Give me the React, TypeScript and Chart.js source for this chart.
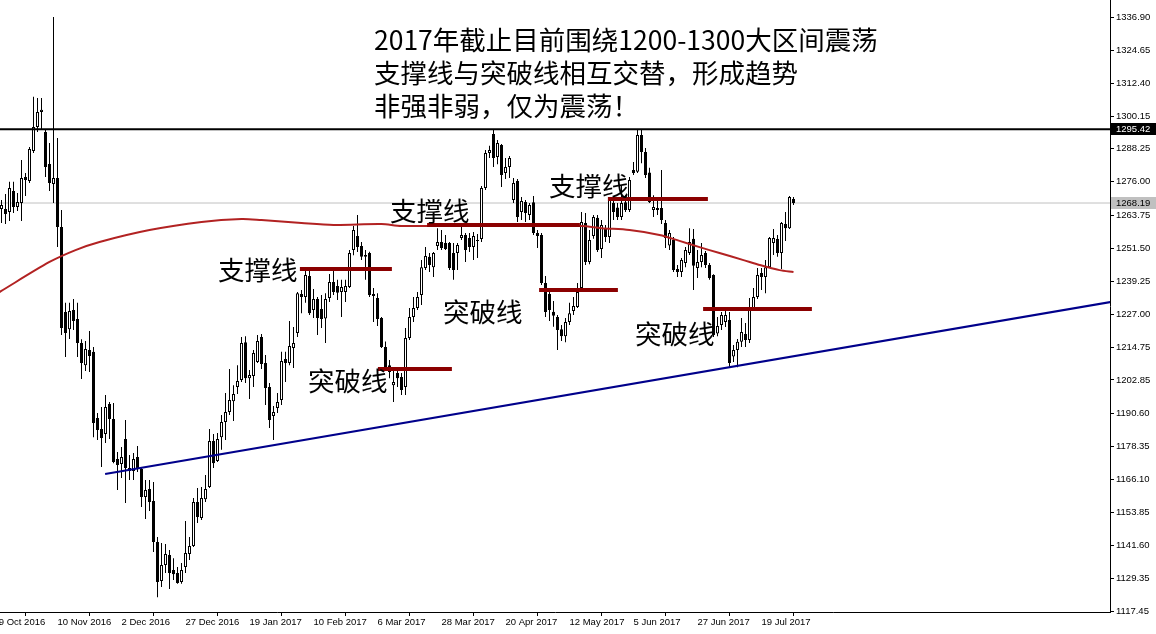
import React, { useEffect, useRef } from 'react';
import { Chart, registerables } from 'chart.js';

Chart.register(...registerables);

// Daily XAU/USD candles, 21 Oct 2016 .. 31 Jul 2017 (index 0 = 21 Oct 2016)
const opens = [
  1266.0, 1266.0, 1264.9, 1272.6, 1266.7, 1268.2, 1277.8, 1276.3, 1287.4, 1296.3,
  1301.8, 1294.4, 1282.6, 1275.2, 1277.4, 1259.3, 1227.9, 1221.6, 1228.7, 1225.3,
  1216.5, 1208.3, 1213.9, 1213.2, 1188.8, 1184.7, 1182.9, 1193.9, 1188.4, 1173.6,
  1171.8, 1181.0, 1169.2, 1169.2, 1174.4, 1169.9, 1159.6, 1162.5, 1158.1, 1143.0,
  1128.6, 1134.5, 1138.2, 1132.6, 1131.5, 1128.2, 1133.7, 1138.5, 1141.5, 1157.7,
  1151.8, 1158.8, 1163.3, 1180.3, 1172.9, 1181.7, 1187.3, 1191.0, 1195.0, 1200.2,
  1202.8, 1216.8, 1203.5, 1204.3, 1209.5, 1218.7, 1209.1, 1200.2, 1189.5, 1192.5,
  1195.4, 1210.6, 1209.1, 1214.6, 1220.2, 1234.6, 1233.5, 1241.2, 1228.7, 1232.7,
  1229.0, 1225.5, 1233.1, 1239.0, 1237.5, 1235.3, 1235.3, 1237.2, 1250.8, 1256.0,
  1252.3, 1248.3, 1249.7, 1234.6, 1233.1, 1225.7, 1215.0, 1208.3, 1200.9, 1205.4,
  1203.9, 1200.2, 1218.3, 1226.1, 1229.4, 1234.2, 1244.2, 1248.3, 1244.5, 1252.3,
  1253.8, 1253.4, 1253.4, 1249.7, 1249.7, 1255.3, 1256.4, 1255.3, 1251.9, 1254.5,
  1254.9, 1273.7, 1286.7, 1293.7, 1285.2, 1289.6, 1279.3, 1281.5, 1269.3, 1276.3,
  1264.9, 1268.6, 1263.8, 1268.5, 1257.1, 1256.4, 1238.6, 1234.6, 1228.0, 1226.1,
  1221.6, 1219.0, 1224.2, 1228.3, 1229.8, 1236.8, 1260.8, 1246.4, 1256.0, 1262.7,
  1251.2, 1258.9, 1255.6, 1268.2, 1266.5, 1263.0, 1268.5, 1265.6, 1280.4, 1279.7,
  1293.3, 1287.0, 1279.5, 1265.6, 1265.6, 1266.3, 1260.8, 1252.5, 1254.5, 1243.8,
  1242.7, 1246.0, 1249.7, 1255.0, 1244.2, 1246.4, 1249.7, 1245.3, 1241.6, 1220.0,
  1223.1, 1224.2, 1225.0, 1211.5, 1213.9, 1216.9, 1219.8, 1217.6, 1229.4, 1233.5,
  1242.3, 1240.9, 1244.5, 1253.4, 1254.9, 1249.7, 1260.4, 1258.9, 1269.7,
];
const highs = [
  1269.3, 1271.5, 1276.0, 1276.0, 1271.9, 1284.1, 1279.3, 1288.9, 1307.4, 1307.0,
  1307.0, 1295.2, 1290.4, 1336.9, 1292.2, 1265.6, 1231.3, 1231.3, 1232.7, 1231.3,
  1217.9, 1217.2, 1220.9, 1215.0, 1190.6, 1192.8, 1197.3, 1194.7, 1194.3, 1176.2,
  1178.1, 1188.0, 1175.1, 1175.8, 1178.4, 1170.7, 1165.9, 1165.9, 1165.1, 1144.8,
  1142.6, 1142.2, 1140.0, 1137.0, 1133.7, 1135.2, 1150.7, 1144.8, 1159.2, 1162.9,
  1163.3, 1167.7, 1184.7, 1182.9, 1183.2, 1189.9, 1198.0, 1206.9, 1200.9, 1208.3,
  1218.7, 1219.0, 1206.5, 1213.9, 1219.4, 1219.8, 1212.0, 1201.7, 1193.2, 1198.0,
  1213.2, 1213.2, 1224.6, 1222.4, 1235.3, 1236.1, 1244.2, 1244.2, 1236.4, 1233.5,
  1234.2, 1234.9, 1242.0, 1243.4, 1239.8, 1239.8, 1239.8, 1250.8, 1259.7, 1263.8,
  1253.8, 1250.8, 1250.2, 1236.8, 1234.9, 1226.1, 1217.0, 1210.2, 1207.6, 1207.2,
  1205.4, 1222.0, 1229.4, 1233.5, 1235.3, 1247.1, 1251.9, 1249.7, 1250.1, 1258.9,
  1258.2, 1256.4, 1253.8, 1253.4, 1253.4, 1259.3, 1257.1, 1257.1, 1257.5, 1256.7,
  1274.5, 1287.8, 1289.3, 1295.4, 1291.5, 1290.0, 1284.8, 1285.6, 1277.4, 1277.1,
  1270.4, 1269.3, 1268.2, 1270.8, 1258.2, 1257.1, 1241.2, 1235.3, 1232.0, 1226.8,
  1223.1, 1225.7, 1231.3, 1233.5, 1238.6, 1264.9, 1264.5, 1258.2, 1263.8, 1263.8,
  1261.9, 1260.1, 1270.4, 1269.3, 1268.2, 1274.8, 1271.2, 1277.8, 1283.3, 1295.5,
  1295.2, 1288.5, 1281.2, 1271.1, 1269.3, 1280.4, 1261.9, 1258.2, 1255.6, 1245.3,
  1247.9, 1251.9, 1258.9, 1258.6, 1250.8, 1253.4, 1250.5, 1246.0, 1241.9, 1226.1,
  1227.9, 1228.7, 1227.9, 1215.7, 1218.0, 1225.7, 1223.9, 1233.1, 1236.8, 1244.2,
  1244.2, 1247.1, 1255.6, 1258.6, 1256.4, 1261.2, 1264.9, 1270.8, 1270.4,
];
const lows = [
  1260.8, 1260.4, 1261.5, 1264.5, 1265.2, 1261.5, 1270.8, 1275.6, 1286.7, 1294.4,
  1295.2, 1277.8, 1272.6, 1268.2, 1251.9, 1219.4, 1211.3, 1218.0, 1221.3, 1211.3,
  1203.2, 1206.1, 1205.8, 1181.7, 1180.6, 1170.7, 1179.5, 1181.0, 1172.1, 1162.2,
  1166.6, 1157.4, 1165.9, 1165.9, 1168.8, 1155.9, 1151.5, 1154.4, 1139.3, 1122.6,
  1126.3, 1131.5, 1125.6, 1128.9, 1127.5, 1127.5, 1131.5, 1136.3, 1141.1, 1150.0,
  1151.1, 1157.7, 1162.9, 1170.3, 1172.5, 1177.0, 1180.6, 1189.9, 1187.7, 1197.6,
  1202.1, 1201.7, 1195.8, 1200.2, 1209.1, 1206.9, 1193.6, 1185.1, 1180.6, 1190.6,
  1193.6, 1202.1, 1208.3, 1207.2, 1218.7, 1227.5, 1231.3, 1226.8, 1225.7, 1219.4,
  1222.0, 1216.5, 1231.6, 1234.2, 1232.4, 1226.1, 1231.6, 1236.8, 1248.9, 1250.1,
  1247.1, 1239.8, 1233.5, 1224.2, 1222.8, 1214.6, 1206.5, 1203.5, 1194.7, 1200.2,
  1197.3, 1197.3, 1217.6, 1224.2, 1228.7, 1230.5, 1243.4, 1242.7, 1240.9, 1250.8,
  1250.8, 1250.8, 1243.4, 1239.8, 1243.4, 1254.5, 1246.4, 1250.1, 1247.1, 1247.9,
  1253.8, 1273.0, 1284.8, 1281.5, 1282.5, 1274.1, 1277.1, 1277.4, 1268.2, 1261.2,
  1261.9, 1261.2, 1261.9, 1256.4, 1251.6, 1237.9, 1226.1, 1224.6, 1222.5, 1213.9,
  1217.2, 1216.8, 1223.1, 1226.8, 1229.4, 1236.4, 1245.3, 1245.6, 1255.0, 1250.1,
  1247.9, 1253.8, 1253.4, 1261.9, 1261.9, 1261.9, 1264.9, 1264.9, 1278.5, 1279.3,
  1282.9, 1277.4, 1268.2, 1263.0, 1263.8, 1260.4, 1251.6, 1250.8, 1242.7, 1240.9,
  1240.9, 1244.5, 1249.0, 1236.1, 1240.5, 1244.5, 1244.2, 1239.8, 1218.7, 1219.0,
  1221.3, 1222.4, 1207.6, 1209.5, 1207.5, 1215.0, 1215.0, 1216.5, 1228.7, 1232.7,
  1236.1, 1234.9, 1244.2, 1249.0, 1248.3, 1243.8, 1254.2, 1258.6, 1267.5,
];
const closes = [
  1267.5, 1264.1, 1273.7, 1266.7, 1268.6, 1277.4, 1276.7, 1288.1, 1296.3, 1301.8,
  1302.6, 1281.5, 1275.6, 1277.4, 1259.3, 1222.0, 1220.2, 1228.3, 1224.6, 1216.5,
  1209.1, 1214.3, 1211.7, 1186.9, 1184.3, 1181.4, 1192.8, 1188.4, 1172.5, 1171.4,
  1174.4, 1170.3, 1170.3, 1173.6, 1170.3, 1159.6, 1162.2, 1157.7, 1143.0, 1128.2,
  1134.5, 1138.5, 1131.5, 1131.1, 1127.8, 1132.6, 1138.9, 1141.5, 1157.7, 1152.2,
  1159.2, 1162.5, 1180.3, 1172.1, 1181.0, 1187.3, 1191.0, 1195.4, 1197.6, 1202.4,
  1216.5, 1203.5, 1204.7, 1212.8, 1217.2, 1208.7, 1199.9, 1188.0, 1191.0, 1194.7,
  1209.8, 1209.1, 1215.4, 1216.5, 1234.9, 1233.5, 1241.6, 1227.5, 1232.7, 1225.7,
  1225.3, 1232.7, 1239.0, 1235.3, 1235.0, 1237.2, 1237.5, 1249.7, 1258.2, 1251.9,
  1248.3, 1249.0, 1234.2, 1233.8, 1225.3, 1215.0, 1207.6, 1205.8, 1202.1, 1203.5,
  1199.1, 1218.3, 1226.1, 1229.4, 1233.5, 1244.5, 1248.6, 1245.3, 1249.7, 1253.8,
  1251.6, 1251.2, 1244.2, 1243.4, 1252.7, 1256.4, 1250.8, 1251.9, 1256.0, 1254.2,
  1273.7, 1286.7, 1287.8, 1284.8, 1290.4, 1278.5, 1281.5, 1284.8, 1275.6, 1263.0,
  1268.9, 1264.5, 1267.5, 1257.1, 1256.0, 1238.6, 1227.9, 1228.7, 1226.5, 1221.3,
  1219.0, 1224.2, 1227.5, 1230.1, 1235.3, 1261.2, 1246.4, 1254.5, 1263.0, 1250.8,
  1260.1, 1255.6, 1269.3, 1264.9, 1263.0, 1268.2, 1265.6, 1276.7, 1279.3, 1293.3,
  1287.0, 1278.5, 1268.5, 1266.7, 1266.3, 1261.9, 1255.3, 1257.1, 1243.4, 1242.7,
  1247.1, 1250.8, 1253.8, 1245.0, 1246.4, 1249.0, 1245.3, 1240.5, 1219.4, 1222.8,
  1226.8, 1226.8, 1209.1, 1213.9, 1216.9, 1220.5, 1217.6, 1229.4, 1233.5, 1241.6,
  1240.9, 1244.5, 1255.3, 1255.3, 1249.7, 1260.8, 1258.9, 1270.4, 1268.19,
];

// x-axis tick labels (bar index of each label)
const tickIdx = [-2, 14, 30, 46, 62, 78, 94, 110, 126, 142, 158, 174, 190];
const tickLabels = [
  '19 Oct 2016', '10 Nov 2016', '2 Dec 2016', '27 Dec 2016', '19 Jan 2017', '10 Feb 2017',
  '6 Mar 2017', '28 Mar 2017', '20 Apr 2017', '12 May 2017', '5 Jun 2017', '27 Jun 2017', '19 Jul 2017',
];
// y-axis tick values
const yTicks = [
  1336.9, 1324.65, 1312.4, 1300.15, 1288.25, 1276.0, 1263.75, 1251.5, 1239.25, 1227.0,
  1214.75, 1202.85, 1190.6, 1178.35, 1166.1, 1153.85, 1141.6, 1129.35, 1117.45,
];
const yMin = 1117.11;
const yMax = 1343.18;

// moving average
const maIdx = [-0.5, 12, 18.5, 24.5, 37, 50, 60, 65, 75, 83, 95, 100, 145, 150, 157, 164.5, 169.5, 174.5, 179.5, 185.5, 189.5, 194.5, 198];
const maVal = [1235.3, 1246.4, 1250.8, 1253.8, 1258.2, 1261.2, 1262.3, 1261.9, 1260.8, 1260.1, 1260.4, 1259.7, 1259.7, 1258.9, 1258.2, 1256.4, 1254.2, 1251.9, 1249.7, 1247.1, 1245.3, 1243.4, 1242.7];

// support / breakout levels
const levelFrom = [74.6, 94.1, 106.4, 134.4, 151.6, 175.4];
const levelTo = [97.6, 112.6, 144.6, 154.1, 176.6, 202.6];
const levelPrice = [1243.8, 1206.9, 1260.1, 1236.1, 1269.7, 1229.0];

// rising trend line
const trendIdx = [25.9, 277.2];
const trendVal = [1168.1, 1231.6];

const resistance = 1295.42;
const lastPrice = 1268.19;

const titleLines = [
  '2017年截止目前围绕1200-1300大区间震荡',
  '支撑线与突破线相互交替，形成趋势',
  '非强非弱，仅为震荡！',
];
const noteTexts = ['支撑线', '突破线', '支撑线', '突破线', '支撑线', '突破线'];
const notePos = [
  [218, 270], [308, 381], [390, 211], [443, 312], [549, 186], [635, 334],
];

const CJK = '"Noto Sans CJK SC", "Noto Sans", sans-serif';
const AXF = '"Liberation Sans", Arial, sans-serif';

export default function App() {
  const ref = useRef<HTMLCanvasElement | null>(null);

  useEffect(() => {
    const canvas = ref.current;
    if (!canvas) return;

    const wicks = highs.map((h, i) => ({ x: i, y: [lows[i], h] }));
    const bodies = opens.map((o, i) => ({ x: i, y: [Math.min(o, closes[i]), Math.max(o, closes[i])] }));
    const ma = maIdx.map((x, i) => ({ x, y: maVal[i] }));
    const trend = trendIdx.map((x, i) => ({ x, y: trendVal[i] }));

    const levelSets = levelPrice.map((p, k) => ({
      type: 'line' as const,
      data: [{ x: levelFrom[k], y: p }, { x: levelTo[k], y: p }],
      borderColor: '#8B0000',
      borderWidth: 4,
      pointRadius: 0,
      order: 1,
    }));

    const overlay = {
      id: 'overlay',
      afterDatasetsDraw(chart: any) {
        const { ctx } = chart;
        ctx.save();
        ctx.fillStyle = '#000';
        ctx.textAlign = 'left';
        ctx.textBaseline = 'middle';
        ctx.font = `26.5px ${CJK}`;
        titleLines.forEach((t, k) => ctx.fillText(t, 374, 40 + k * 33));
        noteTexts.forEach((t, k) => ctx.fillText(t, notePos[k][0], notePos[k][1]));
        ctx.restore();
      },
      afterDraw(chart: any) {
        const { ctx, chartArea } = chart;
        const ys = chart.scales.y;
        const box = (v: number, bg: string, fg: string) => {
          const py = Math.round(ys.getPixelForValue(v));
          ctx.save();
          ctx.fillStyle = bg;
          ctx.fillRect(chartArea.right + 1, py - 6, chart.width - chartArea.right - 1, 12);
          ctx.fillStyle = fg;
          ctx.font = `9.5px ${AXF}`;
          ctx.textAlign = 'left';
          ctx.textBaseline = 'middle';
          ctx.fillText(v.toFixed(2), chartArea.right + 6, py);
          ctx.restore();
        };
        box(resistance, '#000', '#fff');
        box(lastPrice, '#C0C0C0', '#000');
      },
    };

    const chart = new Chart(canvas, {
      type: 'bar',
      data: {
        datasets: [
          {
            type: 'bar',
            data: wicks as any,
            backgroundColor: '#000',
            borderWidth: 0,
            barThickness: 1,
            grouped: false,
            inflateAmount: 0,
            order: 6,
          } as any,
          {
            type: 'bar',
            data: bodies as any,
            backgroundColor: (c: any) => (closes[c.dataIndex] >= opens[c.dataIndex] ? '#fff' : '#000'),
            borderColor: '#000',
            borderWidth: 1,
            borderSkipped: false,
            barThickness: 3,
            grouped: false,
            inflateAmount: 0,
            order: 5,
          } as any,
          {
            type: 'line',
            data: [{ x: -1, y: lastPrice }, { x: 280, y: lastPrice }],
            borderColor: '#C0C0C0',
            borderWidth: 1,
            pointRadius: 0,
            order: 7,
          } as any,
          {
            type: 'line',
            data: ma,
            borderColor: '#B22222',
            borderWidth: 2,
            pointRadius: 0,
            tension: 0.3,
            order: 3,
          } as any,
          ...(levelSets as any[]),
          {
            type: 'line',
            data: trend,
            borderColor: '#00008B',
            borderWidth: 2,
            pointRadius: 0,
            order: 2,
          } as any,
          {
            type: 'line',
            data: [{ x: -1, y: resistance }, { x: 280, y: resistance }],
            borderColor: '#000',
            borderWidth: 2,
            pointRadius: 0,
            order: 2,
          } as any,
        ],
      },
      options: {
        animation: false,
        responsive: false,
        devicePixelRatio: 1,
        events: [],
        layout: { padding: 0 },
        plugins: { legend: { display: false }, tooltip: { enabled: false }, title: { display: false } },
        scales: {
          x: {
            type: 'linear',
            min: -0.375,
            max: -0.375 + 1110 / 4,
            offset: false,
            grid: { display: true, drawOnChartArea: false, drawTicks: true, tickLength: 4, color: '#000' },
            border: { display: true, color: '#000' },
            ticks: {
              autoSkip: false,
              maxRotation: 0,
              minRotation: 0,
              align: 'start',
              padding: 1,
              color: '#000',
              font: { family: AXF, size: 9.5 },
              callback: (v: any) => {
                const k = tickIdx.indexOf(Number(v));
                return k >= 0 ? tickLabels[k] : '';
              },
            },
            afterBuildTicks: (s: any) => {
              s.ticks = tickIdx.map((v) => ({ value: v }));
            },
            afterFit: (s: any) => {
              s.height = 22;
              s.paddingLeft = 0;
              s.paddingRight = 0;
            },
          } as any,
          y: {
            type: 'linear',
            position: 'right',
            min: yMin,
            max: yMax,
            grid: { display: true, drawOnChartArea: false, drawTicks: true, tickLength: 4, color: '#000' },
            border: { display: true, color: '#000' },
            ticks: {
              padding: 2,
              color: '#000',
              font: { family: AXF, size: 9.5 },
              callback: (v: any) => Number(v).toFixed(2),
            },
            afterBuildTicks: (s: any) => {
              s.ticks = yTicks.map((v) => ({ value: v }));
            },
            afterFit: (s: any) => {
              s.width = 46;
              s.paddingTop = 0;
              s.paddingBottom = 0;
            },
          } as any,
        },
      },
      plugins: [overlay],
    });

    return () => chart.destroy();
  }, []);

  return (
    <div style={{ position: 'fixed', left: 0, top: 0, width: 1156, height: 634, background: '#fff' }}>
      <canvas ref={ref} width={1156} height={634} style={{ display: 'block' }} />
    </div>
  );
}
